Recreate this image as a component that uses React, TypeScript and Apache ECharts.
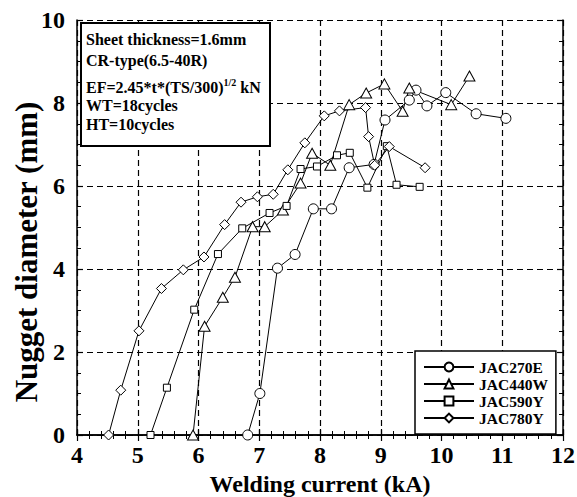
import React, { useEffect, useRef } from "react";
import * as echarts from "echarts";

const FONT = '"Liberation Serif", "Times New Roman", serif';

const seriesNames = ["JAC270E", "JAC440W", "JAC590Y", "JAC780Y"];
const seriesSymbols = ["circle", "triangle", "rect", "diamond"];

const jac270eCurrent = [6.81, 7.01, 7.3, 7.59, 7.89, 8.19, 8.48, 8.89, 9.07, 9.47, 9.58, 9.76, 10.07, 10.57, 11.06];
const jac270eDiameter = [0, 1.0, 4.02, 4.35, 5.45, 5.45, 6.44, 6.52, 7.59, 8.07, 8.31, 7.93, 8.25, 7.74, 7.63];

const jac440wCurrent = [5.91, 6.1, 6.4, 6.6, 6.89, 7.09, 7.39, 7.68, 7.87, 8.17, 8.48, 8.76, 9.06, 9.36, 9.47, 10.16, 10.46];
const jac440wDiameter = [0, 2.62, 3.32, 3.8, 5.02, 5.02, 5.42, 6.07, 6.79, 6.5, 7.96, 8.24, 8.46, 7.8, 8.36, 7.96, 8.65];

const jac590yCurrent = [5.21, 5.48, 5.93, 6.32, 6.72, 7.17, 7.45, 7.68, 7.95, 8.28, 8.49, 8.78, 9.1, 9.26, 9.64];
const jac590yDiameter = [0, 1.14, 3.02, 4.36, 4.98, 5.35, 5.52, 6.41, 6.47, 6.74, 6.8, 5.96, 6.96, 6.03, 5.98];

const jac780yCurrent = [4.52, 4.72, 5.02, 5.39, 5.75, 6.09, 6.43, 6.7, 6.97, 7.23, 7.47, 7.75, 8.07, 8.32, 8.75, 8.8, 8.9, 9.14, 9.73];
const jac780yDiameter = [0, 1.08, 2.51, 3.53, 3.98, 4.29, 5.07, 5.61, 5.74, 5.8, 6.39, 7.04, 7.69, 7.81, 7.89, 7.19, 6.5, 6.95, 6.44];

const xTitle = "Welding current (kA)";
const yTitle = "Nugget diameter (mm)";
const boxLines = ["Sheet thickness=1.6mm", "CR-type(6.5-40R)", "EF=2.45*t*(TS/300)", "1/2", " kN", "WT=18cycles", "HT=10cycles"];

const zip = (xs: number[], ys: number[]) => xs.map((x, i) => [x, ys[i]]);

export default function App() {
  const ref = useRef<HTMLDivElement>(null);
  useEffect(() => {
    document.body.style.margin = "0";
    if (!ref.current) return;
    const chart = echarts.init(ref.current, undefined, { renderer: "svg" });
    const allData = [
      zip(jac270eCurrent, jac270eDiameter),
      zip(jac440wCurrent, jac440wDiameter),
      zip(jac590yCurrent, jac590yDiameter),
      zip(jac780yCurrent, jac780yDiameter),
    ];
    const sizes: any[] = [10, [11, 10], 7, 10];
    const axisCommon = {
      axisLine: { show: true, lineStyle: { color: "#000", width: 1.5 } },
      axisTick: { show: true, inside: true, length: 6, lineStyle: { color: "#000", width: 1.2 } },
      minorTick: { show: true, length: 4, lineStyle: { color: "#000", width: 1 } },
    };
    const labelStyle = { color: "#000", fontSize: 24, fontWeight: "bold", fontFamily: FONT };
    const titleStyle = { color: "#000", fontWeight: "bold", fontFamily: FONT };
    const splitDashed = { show: true, lineStyle: { color: "#000", width: 1.2, type: [6, 4] } };
    const txt = (text: string, y: number) => ({
      type: "text",
      x: 86,
      y,
      z: 20,
      style: { text, fontSize: 16, fontWeight: "bold", fontFamily: FONT, fill: "#000", verticalAlign: "middle" },
    });
    chart.setOption({
      animation: false,
      backgroundColor: "#fff",
      grid: { left: 77, right: 14, top: 20, bottom: 62, outerBoundsMode: "none", containLabel: false },
      xAxis: [
        {
          type: "value", min: 4, max: 12, interval: 1, position: "bottom",
          ...axisCommon,
          minorTick: { ...axisCommon.minorTick, splitNumber: 5 },
          axisLabel: { ...labelStyle, margin: 8 },
          splitLine: splitDashed,
          name: xTitle, nameLocation: "middle", nameGap: 31,
          nameTextStyle: { ...titleStyle, fontSize: 24 },
        },
        {
          type: "value", min: 4, max: 12, interval: 1, position: "top",
          ...axisCommon,
          minorTick: { ...axisCommon.minorTick, splitNumber: 5 },
          axisLabel: { show: false },
          splitLine: { show: false },
        },
      ],
      yAxis: [
        {
          type: "value", min: 0, max: 10, interval: 2, position: "left",
          ...axisCommon,
          minorTick: { ...axisCommon.minorTick, splitNumber: 4 },
          axisLabel: { ...labelStyle, margin: 12 },
          splitLine: splitDashed,
        },
        {
          type: "value", min: 0, max: 10, interval: 2, position: "right",
          ...axisCommon,
          minorTick: { ...axisCommon.minorTick, splitNumber: 4 },
          axisLabel: { show: false },
          splitLine: { show: false },
        },
      ],
      legend: {
        orient: "vertical",
        left: 415,
        top: 351,
        padding: [8, 8, 8, 8],
        itemWidth: 50,
        itemHeight: 11,
        itemGap: 1,
        borderColor: "#000",
        borderWidth: 1.5,
        backgroundColor: "#fff",
        textStyle: { color: "#000", fontSize: 15.5, fontWeight: "bold", fontFamily: FONT, lineHeight: 15 },
        data: seriesNames,
      },
      series: seriesNames.map((name, i) => ({
        name,
        type: "line",
        xAxisIndex: 0,
        yAxisIndex: 0,
        data: allData[i],
        symbol: seriesSymbols[i],
        symbolSize: sizes[i],
        showAllSymbol: true,
        color: "#000",
        lineStyle: { color: "#000", width: 1 },
        itemStyle: { color: "#fff", borderColor: "#000", borderWidth: 1 },
        emphasis: { disabled: true },
        z: 5,
      })),
      graphic: [
        {
          type: "text",
          x: 26,
          y: 252,
          rotation: Math.PI / 2,
          z: 20,
          style: {
            text: yTitle,
            fontSize: 31,
            fontWeight: "bold",
            fontFamily: FONT,
            fill: "#000",
            align: "center",
            verticalAlign: "middle",
          },
        },
        {
          type: "rect",
          z: 19,
          shape: { x: 81, y: 23, width: 189, height: 123 },
          style: { fill: "#fff", stroke: "#000", lineWidth: 2 },
        },
        txt(boxLines[0], 39),
        txt(boxLines[1], 60),
        {
          type: "text",
          x: 86,
          y: 87,
          z: 20,
          style: {
            text: `{a|${boxLines[2]}}{b|${boxLines[3]}}{a|${boxLines[4]}}`,
            fontSize: 16,
            fontWeight: "bold",
            fontFamily: FONT,
            fill: "#000",
            verticalAlign: "middle",
            rich: {
              a: { fontSize: 16, fontWeight: "bold", fontFamily: FONT, fill: "#000", lineHeight: 20 },
              b: { fontSize: 10, fontWeight: "bold", fontFamily: FONT, fill: "#000", lineHeight: 10, verticalAlign: "top" },
            },
          },
        },
        txt(boxLines[5], 105),
        txt(boxLines[6], 124),
      ],
    });
    return () => chart.dispose();
  }, []);
  return <div ref={ref} style={{ width: 577, height: 497 }} />;
}
